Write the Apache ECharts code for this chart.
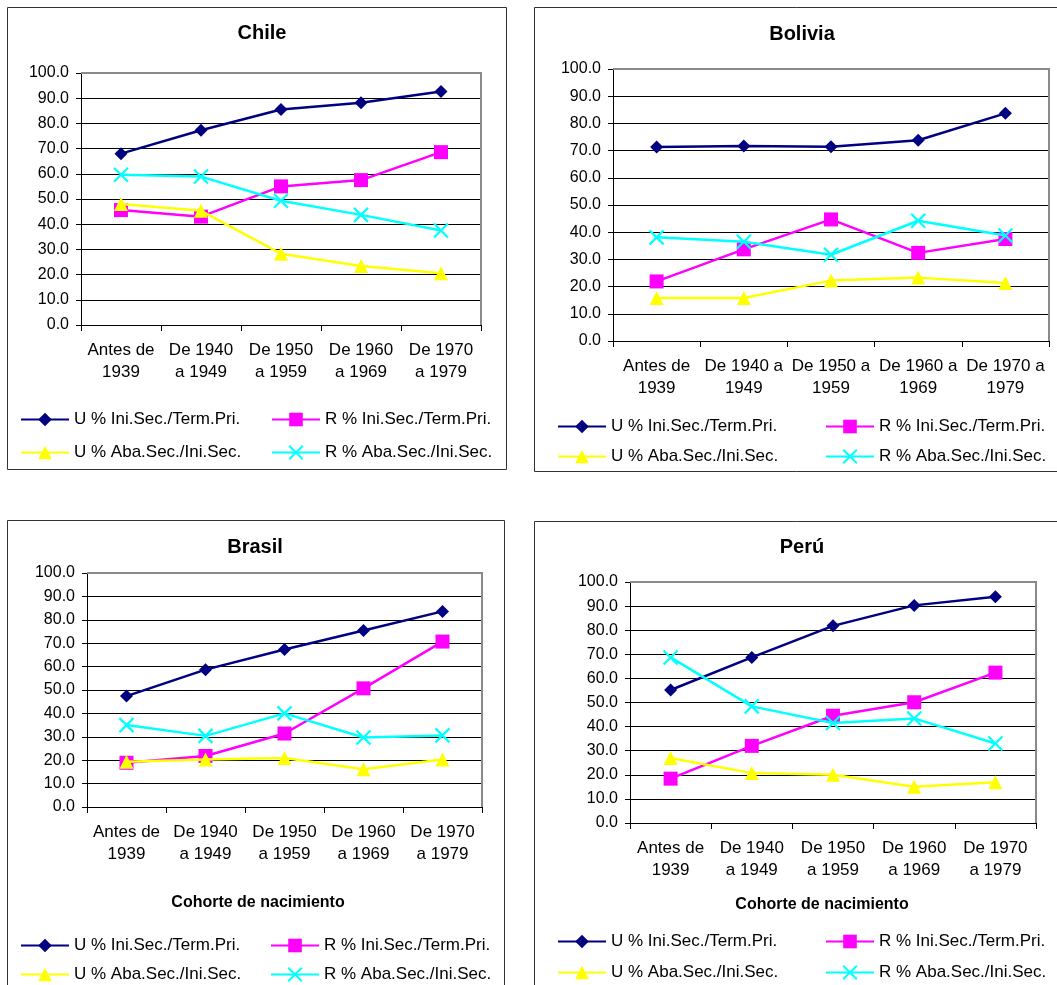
<!DOCTYPE html>
<html>
<head>
<meta charset="utf-8">
<script src="https://cdn.jsdelivr.net/npm/echarts@6/dist/echarts.min.js"></script>
<style>
html,body{margin:0;padding:0;background:#fff;}
#chart{width:1057px;height:985px;}
</style>
</head>
<body>
<div id="chart"></div>
<script>
// ---- data ----
const categories = ['Antes de\n1939', 'De 1940\na 1949', 'De 1950\na 1959', 'De 1960\na 1969', 'De 1970\na 1979'];
const categoriesBolivia = ['Antes de\n1939', 'De 1940 a\n1949', 'De 1950 a\n1959', 'De 1960 a\n1969', 'De 1970 a\n1979'];
const seriesNames = ['U % Ini.Sec./Term.Pri.', 'R % Ini.Sec./Term.Pri.', 'U % Aba.Sec./Ini.Sec.', 'R % Aba.Sec./Ini.Sec.'];
const countries = ['Chile', 'Bolivia', 'Brasil', 'Perú'];
const xAxisTitle = 'Cohorte de nacimiento';
const yTicks = [0, 10, 20, 30, 40, 50, 60, 70, 80, 90, 100];

const chileUIni = [68.0, 77.3, 85.5, 88.2, 92.7];
const chileRIni = [45.6, 43.0, 55.0, 57.5, 68.6];
const chileUAba = [48.0, 45.3, 28.3, 23.4, 20.5];
const chileRAba = [59.6, 58.9, 49.3, 43.7, 37.5];

const boliviaUIni = [71.3, 71.7, 71.4, 73.8, 83.7];
const boliviaRIni = [21.9, 33.7, 44.7, 32.4, 37.5];
const boliviaUAba = [15.8, 15.8, 22.2, 23.3, 21.3];
const boliviaRAba = [38.1, 36.5, 31.7, 44.2, 38.8];

const brasilUIni = [47.4, 58.7, 67.3, 75.4, 83.6];
const brasilRIni = [18.9, 21.8, 31.4, 50.7, 70.7];
const brasilUAba = [19.3, 20.3, 20.9, 16.1, 20.3];
const brasilRAba = [35.0, 30.4, 40.0, 29.7, 30.6];

const peruUIni = [55.2, 68.7, 81.8, 90.3, 93.9];
const peruRIni = [18.4, 32.0, 44.5, 50.1, 62.4];
const peruUAba = [27.0, 20.7, 20.0, 15.0, 16.9];
const peruRAba = [68.7, 48.4, 41.5, 43.4, 33.0];

const panelData = [
  [chileUIni, chileRIni, chileUAba, chileRAba],
  [boliviaUIni, boliviaRIni, boliviaUAba, boliviaRAba],
  [brasilUIni, brasilRIni, brasilUAba, brasilRAba],
  [peruUIni, peruRIni, peruUAba, peruRAba]
];
const panelCategories = [categories, categoriesBolivia, categories, categories];
const panelHasAxisTitle = [false, false, true, true];

// ---- layout / style ----
const layout = [
  { frame: [7, 7, 499, 462], grid: { left: 81, top: 73, width: 400, height: 252 }, tx: 262, ty: 33, rows: [420, 453], cols: [20, 271] },
  { frame: [534, 7, 540, 464], grid: { left: 613, top: 69, width: 436, height: 272 }, tx: 802, ty: 34, rows: [427, 457], cols: [557, 825] },
  { frame: [7, 520, 497, 480], grid: { left: 87, top: 573, width: 395, height: 234 }, tx: 255, ty: 547, rows: [946, 975], cols: [20, 270], nx: 258, ny: 903 },
  { frame: [534, 521, 540, 480], grid: { left: 630, top: 582, width: 406, height: 241 }, tx: 802, ty: 547, rows: [942, 973], cols: [557, 825], nx: 822, ny: 905 }
];
const colors = ['#000080', '#FF00FF', '#FFFF00', '#00FFFF'];
const symbols = ['diamond', 'rect', 'triangle', 'path://M0,0L10,10M10,0L0,10'];
const symbolSizes = [13, 14, 14, 14];
const FONT = '"Liberation Sans", Arial, sans-serif';

const option = {
  animation: false,
  backgroundColor: '#ffffff',
  title: [],
  grid: [],
  xAxis: [],
  yAxis: [],
  legend: [],
  series: [],
  graphic: []
};

layout.forEach((L, p) => {
  option.title.push({
    text: countries[p], left: L.tx, top: L.ty, padding: 0,
    textAlign: 'center', textVerticalAlign: 'middle',
    textStyle: { fontFamily: FONT, fontSize: 20, fontWeight: 'bold', color: '#000' }
  });
  if (panelHasAxisTitle[p]) {
    option.title.push({
      text: xAxisTitle, left: L.nx, top: L.ny, padding: 0,
      textAlign: 'center', textVerticalAlign: 'middle',
      textStyle: { fontFamily: FONT, fontSize: 16, fontWeight: 'bold', color: '#000' }
    });
  }
  option.grid.push(Object.assign({ containLabel: false }, L.grid));
  option.xAxis.push({
    type: 'category', gridIndex: p, data: panelCategories[p], boundaryGap: true,
    axisLine: { show: true, lineStyle: { color: '#000', width: 1 } },
    axisTick: { show: true, length: 6, alignWithLabel: false, lineStyle: { color: '#000' } },
    axisLabel: { interval: 0, margin: 14, fontFamily: FONT, fontSize: 17, lineHeight: 22, color: '#000' },
    splitLine: { show: false }
  });
  option.yAxis.push({
    type: 'value', gridIndex: p, min: yTicks[0], max: yTicks[yTicks.length - 1], interval: yTicks[1] - yTicks[0],
    axisLine: { show: true, lineStyle: { color: '#000', width: 1 } },
    axisTick: { show: true, length: 5, lineStyle: { color: '#000' } },
    axisLabel: { margin: 12, fontFamily: FONT, fontSize: 16, color: '#000', formatter: v => v.toFixed(1) },
    splitLine: { show: true, lineStyle: { color: '#000', width: 1 } }
  });
  seriesNames.forEach((name, s) => {
    option.series.push({
      type: 'line', name: name, xAxisIndex: p, yAxisIndex: p,
      data: panelData[p][s],
      symbol: symbols[s], symbolSize: symbolSizes[s], symbolKeepAspect: true,
      lineStyle: { color: colors[s], width: 2.5 },
      itemStyle: s === 3 ? { color: colors[s], borderColor: colors[s], borderWidth: 2.2 } : { color: colors[s], borderWidth: 0 },
      emphasis: { disabled: true },
      z: 3 + s
    });
    option.legend.push({
      data: [name], left: L.cols[s % 2], top: L.rows[Math.floor(s / 2)] - 9,
      padding: 0, itemWidth: 48, itemHeight: 17, selectedMode: false,
      textStyle: { fontFamily: FONT, fontSize: 17, color: '#000' }
    });
  });
  // panel frame
  option.graphic.push({
    type: 'rect', silent: true, z: -1,
    shape: { x: L.frame[0] + 0.5, y: L.frame[1] + 0.5, width: L.frame[2], height: L.frame[3] },
    style: { fill: 'none', stroke: '#333', lineWidth: 1 }
  });
  // plot area border (top and right, gray)
  const g = L.grid;
  option.graphic.push({
    type: 'polyline', silent: true, z: 1,
    shape: { points: [[g.left, g.top], [g.left + g.width, g.top], [g.left + g.width, g.top + g.height]] },
    style: { fill: 'none', stroke: '#8a8a8a', lineWidth: 2 }
  });
});

const chart = echarts.init(document.getElementById('chart'));
chart.setOption(option);
</script>
</body>
</html>
